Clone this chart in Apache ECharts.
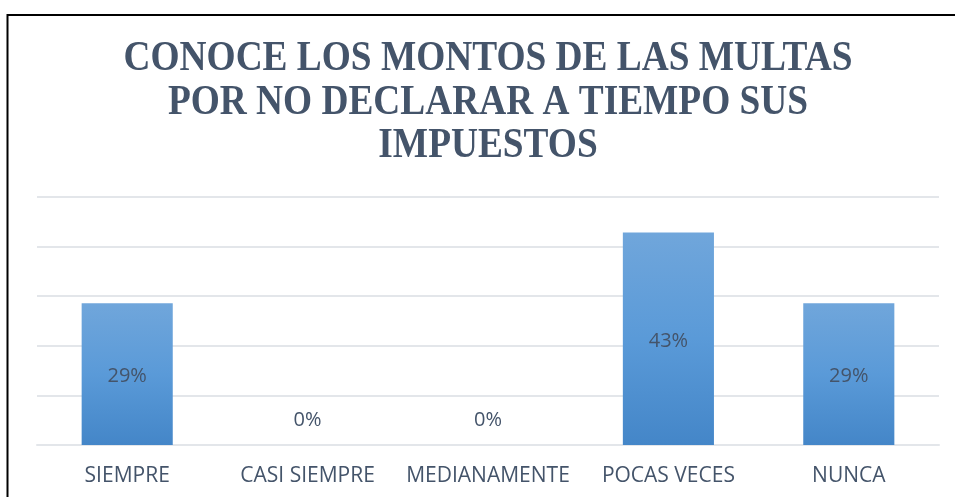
<!DOCTYPE html>
<html>
<head>
<meta charset="utf-8">
<script src="https://cdn.jsdelivr.net/npm/echarts@6/dist/echarts.min.js"></script>
<style>
html,body{margin:0;padding:0;background:#fff;}
#chart{width:955px;height:497px;}
</style>
</head>
<body>
<div id="chart"></div>
<script>
const titleText = "CONOCE LOS MONTOS DE LAS MULTAS\nPOR NO DECLARAR A TIEMPO SUS\nIMPUESTOS";
const categories = ["SIEMPRE", "CASI SIEMPRE", "MEDIANAMENTE", "POCAS VECES", "NUNCA"];
const values = [0.2857, 0, 0, 0.4286, 0.2857];
const yTicks = [0, 0.1, 0.2, 0.3, 0.4, 0.5];

const textColor = "#44546A";
const chart = echarts.init(document.getElementById("chart"));

const barGradient = new echarts.graphic.LinearGradient(0, 0, 0, 1, [
  {offset: 0, color: "#70A6DB"},
  {offset: 0.5, color: "#5A9AD8"},
  {offset: 1, color: "#4486C8"}
]);

const seriesData = values.map(v => {
  const item = {value: v};
  if (v === 0) {
    item.label = {position: "top", distance: 15, offset: [0, 0]};
  }
  return item;
});

chart.setOption({
  animation: false,
  backgroundColor: "#ffffff",
  graphic: [{
    type: "rect",
    shape: {x: 7.5, y: 15, width: 1000, height: 600},
    style: {fill: "none", stroke: "#000000", lineWidth: 2},
    silent: true,
    z: 100
  }, {
    type: "text",
    x: 488,
    y: 38,
    scaleX: 0.9,
    silent: true,
    style: {
      text: titleText,
      fontFamily: "Liberation Serif",
      fontWeight: "bold",
      fontSize: 41.5,
      lineHeight: 43.5,
      fill: textColor,
      align: "center",
      verticalAlign: "top"
    }
  }],
  grid: {left: 37, right: 16, top: 197, bottom: 52, containLabel: false},
  xAxis: {
    type: "category",
    data: categories,
    axisLine: {show: true, lineStyle: {color: "#E3E6EA", width: 2}},
    axisTick: {show: false},
    axisLabel: {
      color: textColor,
      fontFamily: "Open Sans",
      fontSize: 21,
      margin: 21,
      interval: 0
    }
  },
  yAxis: {
    type: "value",
    min: yTicks[0],
    max: yTicks[yTicks.length - 1],
    interval: 0.1,
    axisLine: {show: false},
    axisTick: {show: false},
    axisLabel: {show: false},
    splitLine: {show: true, lineStyle: {color: "#E3E6EA", width: 2}}
  },
  series: [{
    type: "bar",
    data: seriesData,
    barWidth: "50.5%",
    itemStyle: {color: barGradient},
    label: {
      show: true,
      position: "inside",
      offset: [0, 2.5],
      color: textColor,
      fontFamily: "Open Sans",
      fontSize: 20,
      formatter: p => Math.round(p.value * 100) + "%"
    }
  }]
});
</script>
</body>
</html>
